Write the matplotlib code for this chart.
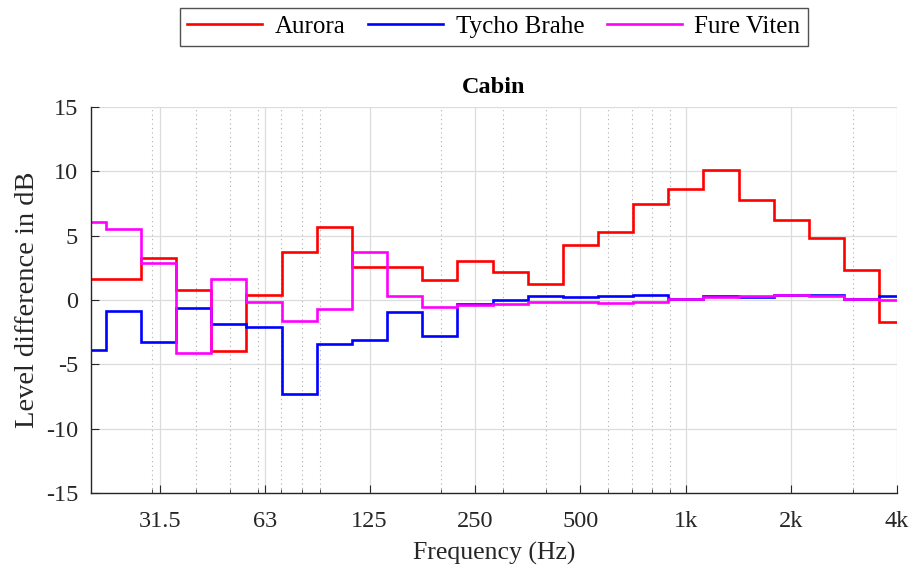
import numpy as np
import matplotlib
matplotlib.use('Agg')
import matplotlib.pyplot as plt
from matplotlib.ticker import FixedLocator, LogLocator, NullFormatter

plt.rcParams['font.family'] = ['Liberation Serif', 'DejaVu Serif']
plt.rcParams['axes.unicode_minus'] = False

# third-octave band centres (nominal)
bands = [20, 25, 31.5, 40, 50, 63, 80, 100, 125, 160, 200, 250, 315, 400,
         500, 630, 800, 1000, 1250, 1600, 2000, 2500, 3150, 4000]
# band index relative to 1 kHz, used for exact band edges
band_index = np.arange(-17, 7)

aurora = [1.6, 1.6, 3.3, 0.8, -4.0, 0.4, 3.7, 5.7, 2.6, 2.6, 1.55, 3.0,
          2.15, 1.25, 4.3, 5.3, 7.5, 8.6, 10.1, 7.8, 6.2, 4.85, 2.35, -1.7]
tycho = [-3.9, -0.85, -3.25, -0.6, -1.85, -2.1, -7.3, -3.45, -3.1, -0.95, -2.8, -0.3,
         0.0, 0.3, 0.23, 0.3, 0.4, 0.1, 0.28, 0.23, 0.4, 0.4, 0.1, 0.33]
fure = [6.05, 5.55, 2.9, -4.1, 1.6, -0.15, -1.6, -0.7, 3.7, 0.35, -0.55, -0.35,
        -0.28, -0.15, -0.15, -0.22, -0.15, 0.05, 0.25, 0.28, 0.4, 0.3, 0.08, 0.03]

series = [('Aurora', aurora, '#ff0000'),
          ('Tycho Brahe', tycho, '#0000ff'),
          ('Fure Viten', fure, '#ff00ff')]

tick_freqs = [31.5, 63, 125, 250, 500, 1000, 2000, 4000]
tick_labels = ['31.5', '63', '125', '250', '500', '1k', '2k', '4k']

edges = 1000.0 * 2.0 ** ((np.append(band_index, band_index[-1] + 1) - 0.5) / 3.0)

fig = plt.figure(figsize=(9.11, 5.71), dpi=100)
ax = fig.add_axes([0.0996, 0.1366, 0.8847, 0.676])

for name, vals, col in series:
    ax.stairs(vals, edges, baseline=None, color=col, lw=1.9, label=name)

ax.set_xscale('log')
ax.set_xlim(20, 4000)
ax.set_ylim(-15, 15)
ax.xaxis.set_major_locator(FixedLocator(tick_freqs))
ax.set_xticklabels(tick_labels)
ax.xaxis.set_minor_locator(LogLocator(base=10, subs=np.arange(2, 10), numticks=20))
ax.xaxis.set_minor_formatter(NullFormatter())
ax.set_yticks(np.arange(-15, 16, 5))

ax.grid(True, which='major', color='#dcdcdc', lw=0.9, ls='-')
ax.grid(True, which='minor', axis='x', color='#b0b0b0', lw=0.8, ls=(0, (1, 3)))
ax.set_axisbelow(True)

for s in ['top', 'right']:
    ax.spines[s].set_visible(False)
for s in ['left', 'bottom']:
    ax.spines[s].set_color('#262626')
    ax.spines[s].set_linewidth(1.0)

ax.tick_params(which='major', direction='in', length=6, width=0.8, color='#262626',
               labelsize=17.5, labelcolor='#262626')
ax.tick_params(which='minor', direction='in', length=3, width=0.6, color='#262626')
ax.tick_params(axis='x', which='major', pad=13)
ax.tick_params(axis='y', which='major', pad=9)

ax.set_xlabel('Frequency (Hz)', fontsize=18.5, color='#262626', labelpad=7)
ax.set_ylabel('Level difference in dB', fontsize=20.5, color='#262626', labelpad=4)
ax.set_title('Cabin', fontsize=17.5, fontweight='bold', pad=10)

leg = fig.legend(loc='center', bbox_to_anchor=(0.542, 0.953), ncol=3,
                 fontsize=18, frameon=True, fancybox=False, edgecolor='#262626',
                 handlelength=3.0, columnspacing=0.9, handletextpad=0.5,
                 borderpad=0.3)
leg.get_frame().set_linewidth(1.0)

fig.savefig('out.png', dpi=100)
